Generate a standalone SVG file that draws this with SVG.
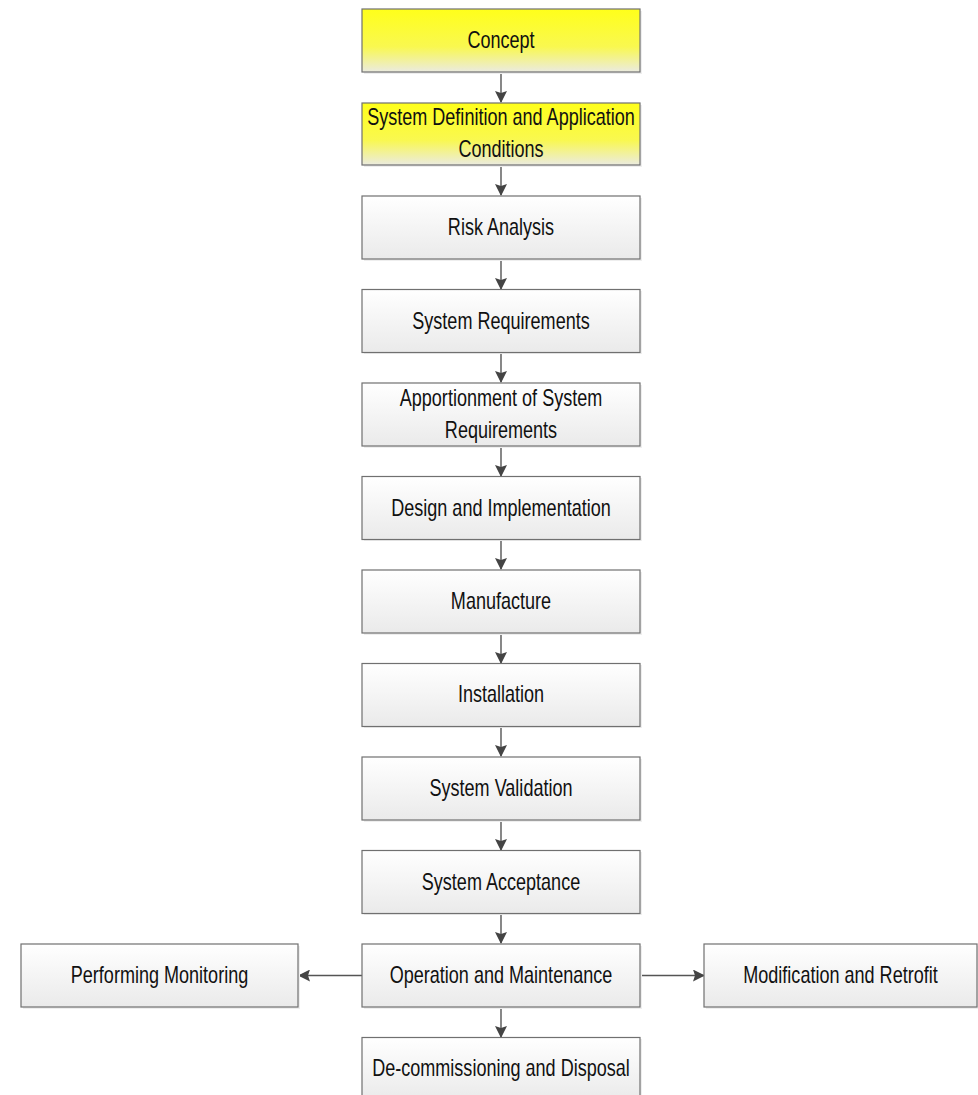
<svg xmlns="http://www.w3.org/2000/svg" width="978" height="1095" viewBox="0 0 978 1095">
<defs>
<linearGradient id="gy" x1="0" y1="0" x2="0" y2="1">
<stop offset="0" stop-color="#ffff1a"/>
<stop offset="0.6" stop-color="#f9f850"/>
<stop offset="1" stop-color="#ebebe0"/>
</linearGradient>
<linearGradient id="gg" x1="0" y1="0" x2="0" y2="1">
<stop offset="0" stop-color="#ffffff"/>
<stop offset="1" stop-color="#eaeaea"/>
</linearGradient>
<marker id="ah" markerWidth="12" markerHeight="12" viewBox="0 0 12 12" refX="11" refY="6" orient="auto" markerUnits="userSpaceOnUse">
<path d="M0,0 L12,6 L0,12 L2,6 Z" fill="#444"/>
</marker>
</defs>
<style>
.box{stroke:#707070;stroke-width:1.2;}
.y{fill:url(#gy);}
.g{fill:url(#gg);}
.sh{fill:#eeeeee;}
.t{font-family:"Liberation Sans",Arial,sans-serif;font-size:23px;fill:#111;text-anchor:middle;}
.c{stroke:#555;stroke-width:1.4;fill:none;marker-end:url(#ah);}
</style>
<rect width="978" height="1095" fill="#ffffff"/>
<g id="connectors">
<line class="c" x1="501" y1="72" x2="501" y2="102"/>
<line class="c" x1="501" y1="165" x2="501" y2="195"/>
<line class="c" x1="501" y1="259" x2="501" y2="289"/>
<line class="c" x1="501" y1="352" x2="501" y2="382"/>
<line class="c" x1="501" y1="446" x2="501" y2="476"/>
<line class="c" x1="501" y1="539" x2="501" y2="569"/>
<line class="c" x1="501" y1="633" x2="501" y2="663"/>
<line class="c" x1="501" y1="726" x2="501" y2="756"/>
<line class="c" x1="501" y1="820" x2="501" y2="850"/>
<line class="c" x1="501" y1="913" x2="501" y2="943"/>
<line class="c" x1="501" y1="1007" x2="501" y2="1037"/>
<line class="c" x1="362" y1="975.5" x2="299" y2="975.5"/>
<line class="c" x1="640" y1="975.5" x2="704" y2="975.5"/>
</g>
<g id="n1"><rect class="sh" x="364" y="11" width="278" height="63"/><rect class="box y" x="362" y="9" width="278" height="63"/><text class="t" transform="matrix(0.785 0 0 1 501 48)">Concept</text></g>
<g id="n2"><rect class="sh" x="364" y="105" width="278" height="62"/><rect class="box y" x="362" y="103" width="278" height="62"/><text class="t" transform="matrix(0.785 0 0 1 501 124.5)">System Definition and Application</text><text class="t" transform="matrix(0.785 0 0 1 501 156.5)">Conditions</text></g>
<g id="n3"><rect class="sh" x="364" y="198" width="278" height="63"/><rect class="box g" x="362" y="196" width="278" height="63"/><text class="t" transform="matrix(0.785 0 0 1 501 234.5)">Risk Analysis</text></g>
<g id="n4"><rect class="sh" x="364" y="291" width="278" height="63"/><rect class="box g" x="362" y="289.5" width="278" height="63"/><text class="t" transform="matrix(0.785 0 0 1 501 329)">System Requirements</text></g>
<g id="n5"><rect class="sh" x="364" y="385" width="278" height="63"/><rect class="box g" x="362" y="383" width="278" height="63"/><text class="t" transform="matrix(0.785 0 0 1 501 406)">Apportionment of System</text><text class="t" transform="matrix(0.785 0 0 1 501 438)">Requirements</text></g>
<g id="n6"><rect class="sh" x="364" y="478" width="278" height="63"/><rect class="box g" x="362" y="476.5" width="278" height="63"/><text class="t" transform="matrix(0.785 0 0 1 501 515.5)">Design and Implementation</text></g>
<g id="n7"><rect class="sh" x="364" y="572" width="278" height="63"/><rect class="box g" x="362" y="570" width="278" height="63"/><text class="t" transform="matrix(0.785 0 0 1 501 609)">Manufacture</text></g>
<g id="n8"><rect class="sh" x="364" y="665" width="278" height="63"/><rect class="box g" x="362" y="663.5" width="278" height="63"/><text class="t" transform="matrix(0.785 0 0 1 501 702)">Installation</text></g>
<g id="n9"><rect class="sh" x="364" y="759" width="278" height="63"/><rect class="box g" x="362" y="757" width="278" height="63"/><text class="t" transform="matrix(0.785 0 0 1 501 796)">System Validation</text></g>
<g id="n10"><rect class="sh" x="364" y="852" width="278" height="63"/><rect class="box g" x="362" y="850.5" width="278" height="63"/><text class="t" transform="matrix(0.785 0 0 1 501 889.5)">System Acceptance</text></g>
<g id="n11"><rect class="sh" x="364" y="946" width="278" height="63"/><rect class="box g" x="362" y="944" width="278" height="63"/><text class="t" transform="matrix(0.785 0 0 1 501 983)">Operation and Maintenance</text></g>
<g id="n12"><rect class="sh" x="23" y="946" width="277" height="63"/><rect class="box g" x="21" y="944" width="277" height="63"/><text class="t" transform="matrix(0.785 0 0 1 159.5 983)">Performing Monitoring</text></g>
<g id="n13"><rect class="sh" x="706" y="946" width="274" height="63"/><rect class="box g" x="704" y="944" width="273" height="63"/><text class="t" transform="matrix(0.785 0 0 1 840.5 983)">Modification and Retrofit</text></g>
<g id="n14"><rect class="sh" x="364" y="1039" width="278" height="63"/><rect class="box g" x="362" y="1037.5" width="278" height="63"/><text class="t" transform="matrix(0.785 0 0 1 501 1076)">De-commissioning and Disposal</text></g>
</svg>
